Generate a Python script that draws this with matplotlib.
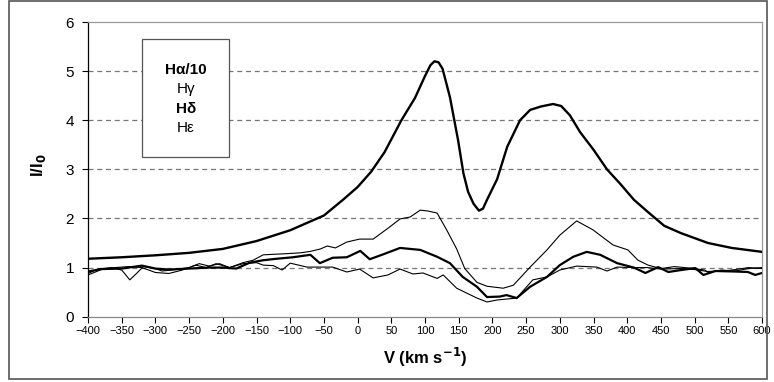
import numpy as np
import matplotlib
matplotlib.use('Agg')
import matplotlib.pyplot as plt
from matplotlib.patches import Rectangle

plt.rcParams['font.family'] = ['Liberation Sans', 'DejaVu Sans']

# ---------------------------------------------------
# Dados
# ---------------------------------------------------
v_ha = [-400, -350, -300, -250, -200, -150, -100, -50, -20, 0, 20, 40, 65, 85, 100,
        108, 114, 120, 126, 137, 149, 157, 164, 172, 180, 186, 192, 207, 222, 241,
        256, 272, 290, 302, 315, 330, 350, 370, 390, 410, 430, 455, 480, 520, 555, 600]
i_ha = [1.18, 1.21, 1.25, 1.30, 1.38, 1.54, 1.76, 2.06, 2.40, 2.64, 2.95, 3.35, 4.0,
        4.45, 4.9, 5.12, 5.2, 5.18, 5.05, 4.47, 3.6, 2.92, 2.54, 2.3, 2.16, 2.2, 2.38,
        2.8, 3.46, 4.0, 4.21, 4.28, 4.33, 4.29, 4.1, 3.76, 3.4, 3.0, 2.7, 2.38, 2.14,
        1.85, 1.7, 1.5, 1.4, 1.32]

v_hg = [-400, -385, -365, -350, -338, -328, -318, -305, -290, -270, -250, -235, -220,
        -205, -190, -170, -155, -140, -110, -85, -70, -55, -45, -33, -16, 3, 23, 45,
        63, 78, 93, 105, 118, 132, 147, 159, 177, 192, 216, 231, 256, 281, 300, 325,
        349, 379, 401, 416, 431, 450, 470, 500, 515, 520, 540, 560, 580, 600]
i_hg = [0.88, 0.97, 1.0, 0.95, 0.75, 0.88, 1.02, 1.0, 0.93, 0.96, 1.0, 1.08, 1.03,
        1.08, 1.0, 1.1, 1.15, 1.26, 1.28, 1.30, 1.33, 1.38, 1.44, 1.40, 1.52, 1.58,
        1.58, 1.8, 1.99, 2.03, 2.17, 2.15, 2.11, 1.77, 1.38, 0.98, 0.7, 0.62, 0.58,
        0.64, 1.01, 1.36, 1.66, 1.95, 1.77, 1.46, 1.36, 1.15, 1.05, 0.98, 1.02, 0.98,
        0.95, 0.9, 0.95, 0.93, 0.98, 1.0]

v_hd = [-400, -380, -350, -320, -300, -280, -250, -220, -200, -180, -160, -140, -120,
        -96, -70, -56, -37, -16, 4, 18, 38, 63, 93, 118, 137, 156, 177, 192, 211, 221,
        236, 256, 281, 300, 320, 340, 360, 385, 410, 427, 446, 461, 480, 501, 513, 531,
        560, 579, 590, 600]
i_hd = [0.92, 0.97, 0.98, 1.04, 0.98, 0.96, 0.98, 1.0, 1.0, 0.98, 1.1, 1.15, 1.18,
        1.21, 1.26, 1.09, 1.2, 1.21, 1.34, 1.17, 1.27, 1.4, 1.36, 1.22, 1.09, 0.81,
        0.61, 0.4, 0.41, 0.44, 0.38, 0.61, 0.81, 1.05, 1.22, 1.32, 1.26, 1.09, 1.0,
        0.89, 1.01, 0.91, 0.95, 0.99, 0.85, 0.93, 0.92, 0.91, 0.85, 0.89]

v_he = [-400, -380, -360, -340, -320, -300, -280, -260, -240, -225, -210, -190, -170,
        -150, -140, -125, -112, -100, -75, -37, -16, 3, 23, 45, 63, 82, 97, 118, 127,
        147, 177, 192, 207, 236, 260, 281, 300, 325, 355, 370, 385, 410, 430, 450,
        480, 500, 520, 550, 580, 600]
i_he = [0.85, 0.96, 1.0, 1.02, 1.0, 0.9, 0.88, 0.95, 1.05, 1.0, 1.08, 1.0, 1.08, 1.1,
        1.05, 1.04, 0.95, 1.09, 1.01, 1.01, 0.91, 0.97, 0.79, 0.85, 0.97, 0.87, 0.89,
        0.78, 0.85, 0.58, 0.38, 0.3, 0.34, 0.38, 0.75, 0.81, 0.95, 1.03, 1.01, 0.93,
        1.01, 1.0, 1.0, 0.97, 0.98, 0.96, 0.92, 0.94, 1.0, 0.98]

legenda = [('H\u03b1/10', 'bold'), ('H\u03b3', 'normal'),
           ('H\u03b4', 'bold'), ('H\u03b5', 'normal')]

# ---------------------------------------------------
# Figura
# ---------------------------------------------------
fig = plt.figure(figsize=(7.74, 3.82), dpi=100)
ax = fig.add_axes([88 / 774, 1 - 316.7 / 382, 674 / 774, 294.7 / 382])

for y in range(1, 6):
    ax.axhline(y, color='#777777', linestyle=(0, (4, 3)), linewidth=0.9, zorder=1)

estilo = dict(color='black', solid_joinstyle='round', solid_capstyle='round', zorder=3)
ax.plot(v_ha, i_ha, linewidth=1.7, **estilo)
ax.plot(v_hg, i_hg, linewidth=0.8, **estilo)
ax.plot(v_hd, i_hd, linewidth=1.6, **estilo)
ax.plot(v_he, i_he, linewidth=0.8, **estilo)

ax.set_xlim(-400, 600)
ax.set_ylim(0, 6)
ax.set_xticks(np.arange(-400, 601, 50))
ax.set_yticks(np.arange(0, 7, 1))
ax.tick_params(axis='x', direction='out', length=4, width=0.8, labelsize=8, pad=3)
ax.tick_params(axis='y', direction='out', length=4, width=0.8, labelsize=11, pad=6)

ax.spines['left'].set_color('black')
ax.spines['bottom'].set_color('#888888')
ax.spines['top'].set_color('#999999')
ax.spines['right'].set_color('#999999')
for s in ax.spines.values():
    s.set_linewidth(0.9)

ax.set_xlabel('V (km s$^{\\mathbf{-1}}$)', fontsize=12, fontweight='bold', labelpad=7)
fig.text(38 / 774, 1 - 165 / 382, 'I/I$_{\\mathbf{0}}$', rotation=90, fontsize=12,
         fontweight='bold', ha='center', va='center')

# caixa da legenda
fig.patches.append(Rectangle((142 / 774, 1 - 157 / 382), 87 / 774, 118 / 382,
                             transform=fig.transFigure, facecolor='white',
                             edgecolor='#555555', linewidth=0.9, zorder=5))
for k, (txt, peso) in enumerate(legenda):
    fig.text(186 / 774, 1 - (70 + 19.5 * k) / 382, txt, fontsize=11, fontweight=peso,
             ha='center', va='center', zorder=6)

# moldura externa
fig.patches.append(Rectangle((9 / 774, 3 / 382), 758 / 774, 378 / 382,
                             transform=fig.transFigure, facecolor='none',
                             edgecolor='#555555', linewidth=1.2))

fig.savefig('out.png', dpi=100)
